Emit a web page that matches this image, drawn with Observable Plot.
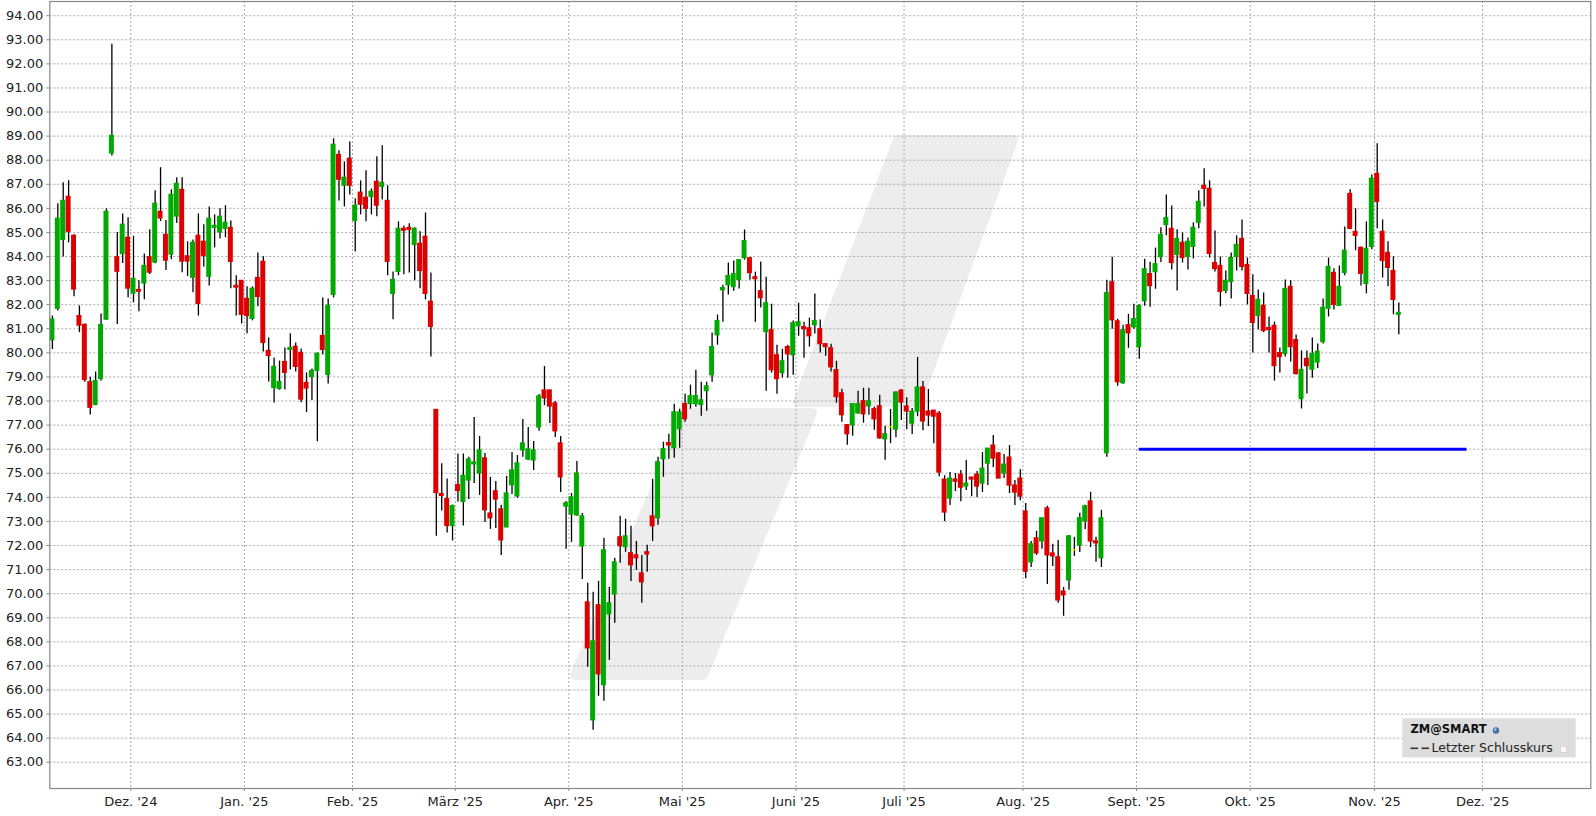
<!DOCTYPE html>
<html><head><meta charset="utf-8">
<script src="https://cdn.jsdelivr.net/npm/d3@7"></script>
<script src="https://cdn.jsdelivr.net/npm/@observablehq/plot@0.6"></script>
<style>html,body{margin:0;padding:0;background:#fff;overflow:hidden}</style>
</head><body><div id="chart"></div>
<script>
// Daily candles (trading-day index 0..249), ZM@SMART, Nov 2024 – Nov 2025
const openV = [80.52,81.83,84.69,86.48,84.86,81.53,81.16,78.78,77.84,78.91,81.38,88.28,83.97,84.1,84.78,82.46,82.61,82.88,83.97,83.75,85.86,84.9,84.08,85.66,86.77,84.01,83.12,84.86,84.61,83.16,
85.19,85.0,85.15,85.19,82.78,82.99,82.24,81.41,83.11,83.78,80.08,78.54,78.5,79.62,80.12,80.25,80.0,78.75,79.0,79.25,80.7,79.08,82.41,88.22,86.94,88.06,85.48,86.65,86.44,86.48,
87.1,86.89,86.31,82.45,83.36,85.15,85.19,84.48,84.53,84.82,82.12,77.63,74.14,73.93,72.81,74.51,73.81,74.7,75.37,74.99,75.62,73.33,74.25,73.5,72.75,74.5,74.04,75.95,75.57,75.53,
76.9,78.44,78.44,77.9,76.24,73.62,73.29,73.25,71.96,69.64,64.74,69.52,66.2,69.14,69.97,72.34,71.93,71.68,71.59,70.84,71.72,73.21,73.13,75.58,76.25,76.04,76.83,77.87,77.87,77.87,
77.83,78.41,79.07,80.73,82.6,82.81,82.73,83.02,83.93,83.93,83.14,82.56,80.86,80.94,79.9,79.16,80.24,79.9,81.11,81.07,81.02,81.15,80.98,80.36,80.19,79.28,78.32,77.0,76.99,77.49,
77.99,77.78,77.66,77.78,76.41,76.91,76.81,78.43,77.77,77.06,77.56,78.56,77.56,77.6,77.48,74.74,73.95,74.74,74.94,74.45,74.82,74.94,74.57,75.4,76.15,75.82,74.99,75.65,74.49,74.78,
73.41,71.3,72.3,72.17,73.54,71.67,71.51,70.09,70.55,71.8,72.0,73.0,73.83,72.17,71.47,75.83,82.93,81.31,78.74,81.15,81.06,80.23,82.14,83.27,83.35,83.97,85.31,85.15,84.07,84.57,
83.98,84.4,85.4,86.93,86.81,83.73,83.61,82.57,82.94,83.98,84.73,83.65,82.36,81.53,81.95,81.03,81.12,79.99,79.95,82.74,80.53,78.08,79.75,79.3,79.6,80.45,81.83,83.32,81.95,83.32,
86.6,85.02,84.36,82.86,84.4,87.43,85.02,84.15,83.4,81.58];
const highV = [81.53,86.19,87.06,87.15,84.9,81.95,81.2,78.99,79.2,81.61,85.98,92.81,85.0,85.77,85.61,84.84,82.99,84.11,85.11,86.73,87.69,85.5,86.77,87.27,87.27,84.61,84.69,85.77,85.32,86.06,
85.73,85.98,86.11,85.48,83.2,83.0,82.74,82.74,84.15,83.99,80.62,79.79,79.66,80.2,80.79,80.41,80.16,79.17,79.33,80.0,82.28,82.24,88.89,88.39,87.93,88.76,86.4,87.14,87.56,86.81,
88.14,88.6,86.94,83.36,85.44,85.27,85.36,85.19,85.03,85.81,83.32,77.65,75.39,74.76,73.68,75.8,75.8,75.66,77.32,76.53,75.82,74.83,74.66,73.67,74.87,75.86,75.74,77.23,76.9,76.32,
78.27,79.43,78.44,77.98,76.53,73.83,74.16,75.49,73.33,70.43,70.06,70.51,72.3,70.26,71.47,73.21,73.09,72.8,72.17,71.59,72.01,74.75,75.67,76.29,76.62,77.87,77.66,78.28,78.66,79.28,
78.78,78.78,80.82,81.57,82.81,83.73,83.81,83.87,85.1,83.95,83.35,83.77,83.14,82.02,80.32,80.15,80.32,81.32,82.06,81.27,81.44,82.44,81.36,80.36,80.36,79.65,78.49,77.0,77.88,78.41,
78.53,78.53,77.74,78.24,76.95,77.65,78.39,78.48,78.14,77.69,79.81,78.81,78.48,77.6,77.56,74.9,75.03,74.99,75.11,75.53,74.82,75.07,75.86,76.03,76.57,75.86,75.78,76.15,74.7,75.15,
73.74,72.17,72.59,73.13,73.63,72.05,72.21,70.26,72.42,72.34,73.34,73.67,74.21,72.34,73.46,83.02,83.97,81.4,81.15,81.6,82.02,82.0,83.89,83.76,84.35,85.2,86.56,86.1,85.11,84.98,
84.77,85.4,86.73,87.64,87.14,85.06,83.98,83.4,84.15,84.86,85.52,83.94,83.24,82.61,82.49,81.49,81.28,80.2,83.03,82.99,80.74,80.08,80.08,80.62,80.37,82.24,83.94,83.49,83.61,85.23,
86.77,85.98,84.4,85.44,87.39,88.68,85.52,84.61,83.99,82.07];
const lowV = [80.14,81.74,83.98,84.57,82.33,80.84,78.78,77.42,77.8,78.83,81.35,88.17,81.18,83.71,82.29,82.08,81.71,82.21,83.25,83.7,85.45,83.42,83.87,85.37,83.33,83.17,82.5,81.53,83.57,82.78,
84.36,84.73,84.78,82.66,81.53,81.2,80.79,81.33,81.91,80.04,78.79,77.92,78.45,78.46,79.29,79.21,77.93,77.52,78.02,76.31,79.91,78.71,82.28,86.31,86.06,86.56,84.19,85.73,85.44,85.73,
85.65,86.35,83.2,81.37,83.2,83.24,83.32,82.99,82.66,82.2,79.83,72.38,73.43,72.52,72.19,73.81,72.81,73.91,74.58,74.08,72.96,72.67,72.71,71.59,72.75,74.12,73.96,75.66,75.53,75.12,
76.74,77.81,77.07,76.49,74.2,71.84,72.13,73.21,70.59,66.94,64.33,65.74,65.53,67.23,68.77,71.26,71.72,70.51,70.97,69.6,70.89,72.17,72.84,74.83,75.58,75.62,76.04,77.12,77.66,77.74,
77.37,77.58,78.78,80.32,81.27,82.4,82.56,82.65,83.85,83.02,81.27,81.86,78.41,79.16,78.28,78.95,78.95,79.07,80.69,79.78,80.24,80.78,79.99,79.86,79.2,77.91,77.12,76.16,76.54,77.45,
77.08,77.41,76.79,76.41,75.54,76.23,76.48,77.19,76.81,76.61,77.35,76.77,76.94,76.23,74.86,72.99,73.66,74.24,73.82,74.28,74.03,73.99,74.2,74.49,75.24,74.78,74.78,74.16,73.66,73.86,
70.62,71.09,71.59,71.84,70.38,71.13,69.6,69.06,70.14,71.55,71.71,72.67,71.92,71.3,71.09,75.66,80.98,78.61,78.7,80.19,80.98,79.73,81.94,81.89,82.64,83.75,84.86,83.44,82.57,83.73,
83.44,83.9,85.15,86.06,83.94,83.36,81.91,82.45,82.24,83.4,83.4,81.99,79.99,80.95,80.83,79.99,78.83,79.16,79.83,79.62,79.08,77.67,78.29,78.95,79.35,80.37,81.49,81.78,81.95,83.2,
85.11,84.24,82.78,82.45,84.28,85.15,83.11,82.74,81.58,80.75];
const closeV = [81.39,85.57,86.31,85.03,82.63,81.13,78.87,77.72,78.83,81.16,85.86,89.01,83.37,85.32,82.67,83.07,82.54,83.61,83.33,86.19,85.58,83.83,86.56,87.02,83.79,83.79,84.57,82.03,84.03,85.57,
85.27,85.65,85.40,83.78,82.71,81.58,81.53,82.66,82.32,80.41,79.87,79.42,78.79,79.17,80.2,79.42,78.06,78.52,79.25,79.96,80.12,81.95,88.64,87.19,87.27,86.94,86.11,86.15,85.98,86.69,
86.11,87.06,83.78,83.03,85.15,85.07,85.11,85.15,83.4,82.45,81.08,74.18,74.06,72.81,73.64,74.26,74.89,75.57,75.45,75.95,73.46,73.13,73.91,72.21,74.16,75.12,75.41,76.24,75.99,75.95,
78.19,78.11,77.77,76.74,74.83,73.75,74.0,74.99,73.21,67.73,68.02,66.65,71.8,69.6,71.3,71.97,72.38,71.18,71.47,70.47,71.63,72.8,75.46,76.0,76.16,77.53,77.53,77.24,78.2,78.2,
78.03,78.61,80.24,81.32,82.69,83.19,83.27,83.85,84.64,83.31,83.06,82.27,82.06,79.28,78.91,79.65,79.94,81.23,81.27,80.98,80.69,81.32,80.36,80.24,79.4,78.16,77.41,76.62,77.87,77.87,
77.45,77.99,77.24,76.45,76.62,76.91,78.35,77.94,77.56,77.56,78.56,77.15,77.4,77.35,75.03,73.37,74.78,74.65,74.4,74.57,74.74,74.45,75.19,76.02,75.61,74.78,75.36,74.49,74.2,74.03,
70.91,72.05,71.67,73.13,71.59,71.55,69.72,69.93,72.38,71.8,73.13,73.63,72.17,72.09,73.13,82.48,81.35,78.78,80.94,80.81,81.4,81.94,83.47,82.77,83.68,84.9,85.6,83.73,84.73,83.94,
84.61,85.19,86.27,86.81,84.11,83.48,82.53,82.99,83.94,84.48,83.57,82.45,81.24,82.2,80.91,80.95,79.45,79.83,82.65,80.24,79.12,79.29,79.45,79.95,80.05,81.87,83.57,81.99,82.74,84.24,
85.15,84.86,83.28,84.32,87.23,86.27,83.82,83.53,82.2,81.66];

// Month axis: labels and their boundary positions (between last and first trading day)
const monthLabels = ["Dez. '24","Jan. '25","Feb. '25","März '25","Apr. '25","Mai '25","Juni '25","Juli '25","Aug. '25","Sept. '25","Okt. '25","Nov. '25","Dez. '25"];
const monthPos = [14.5,35.5,55.5,74.5,95.5,116.5,137.5,157.5,179.5,200.5,221.5,244.5,264.5];
const yTicks = d3.range(63, 95);
// Horizontal reference line (blue)
const refLine = [{from: 201, to: 261.6, value: 76}];

const candles = openV.map((o, i) => ({i, open: o, high: highV[i], low: lowV[i], close: closeV[i]}));
const candleColor = d => d.close > d.open ? "#00aa00" : d.close < d.open ? "#dd0000" : "#f2f200";
const labelByPos = new Map(monthPos.map((p, k) => [p, monthLabels[k]]));

const grid = {stroke: "#a8a8a8", strokeOpacity: 1, strokeDasharray: "2,2", strokeWidth: 1};

const chart = Plot.plot({
  width: 1596, height: 816,
  marginLeft: 49.3, marginRight: 5.7, marginTop: 1, marginBottom: 28,
  x: {domain: [-0.48, 284.5]},
  y: {domain: [61.91, 94.59]},
  color: {type: "identity"},
  style: {fontFamily: "DejaVu Sans", fontSize: "13px", background: "transparent", color: "#222"},
  marks: [
    Plot.gridY(yTicks, grid),
    Plot.gridX(monthPos, grid),
    Plot.ruleX(candles, {x: "i", y1: "low", y2: "high", stroke: "#000", strokeWidth: 1.3}),
    Plot.rect(candles, {x1: d => d.i - 0.46, x2: d => d.i + 0.46, y1: "open", y2: "close", fill: candleColor, insetTop: -0.6, insetBottom: -0.6}),
    Plot.ruleY(refLine, {x1: "from", x2: "to", y: "value", stroke: "#0000ff", strokeWidth: 3}),
    Plot.axisY(yTicks, {tickFormat: d => d.toFixed(2), tickSize: 3, tickPadding: 3.5, stroke: "#888"}),
    Plot.axisX(monthPos, {tickFormat: d => labelByPos.get(d), tickSize: 3, tickPadding: 5, stroke: "#888"}),
    Plot.frame({stroke: "#888", strokeWidth: 1.2})
  ]
});
document.getElementById("chart").appendChild(chart);

// Decorative watermark behind the plot (pixel space)
const svg = d3.select(chart);
const wm = svg.insert("g", ":nth-child(2)").attr("fill", "#ededed").attr("stroke", "#ededed").attr("stroke-width", 10).attr("stroke-linejoin", "round");
wm.append("polygon").attr("points", "898,140 1013,140 917,402 798,402");
wm.append("polygon").attr("points", "688,413 812,413 703,675 575,675");

// Legend box
const lg = svg.append("g").attr("font-family", "DejaVu Sans").attr("text-anchor", "start");
lg.append("rect").attr("x", 1402.3).attr("y", 718.3).attr("width", 173.4).attr("height", 39).attr("fill", "#dddddd");
lg.append("text").attr("x", 1410.5).attr("y", 733.3).attr("font-size", 11.5).attr("font-weight", "bold").attr("fill", "#111").text("ZM@SMART");
lg.append("circle").attr("cx", 1496).attr("cy", 730.5).attr("r", 3.2).attr("fill", "#3d6fa8");
lg.append("circle").attr("cx", 1495.2).attr("cy", 729.6).attr("r", 1.3).attr("fill", "#a9c6e8");
lg.append("line").attr("x1", 1410.5).attr("x2", 1418).attr("y1", 748.3).attr("y2", 748.3).attr("stroke", "#333").attr("stroke-width", 1.6);
lg.append("line").attr("x1", 1421.5).attr("x2", 1429).attr("y1", 748.3).attr("y2", 748.3).attr("stroke", "#333").attr("stroke-width", 1.6);
lg.append("text").attr("x", 1431.5).attr("y", 752.3).attr("font-size", 12.5).attr("fill", "#222").text("Letzter Schlusskurs");
lg.append("rect").attr("x", 1560.5).attr("y", 746.5).attr("width", 6).attr("height", 6).attr("fill", "#fafafa").attr("stroke", "#d0d0d0").attr("stroke-width", 0.8);
</script></body></html>
